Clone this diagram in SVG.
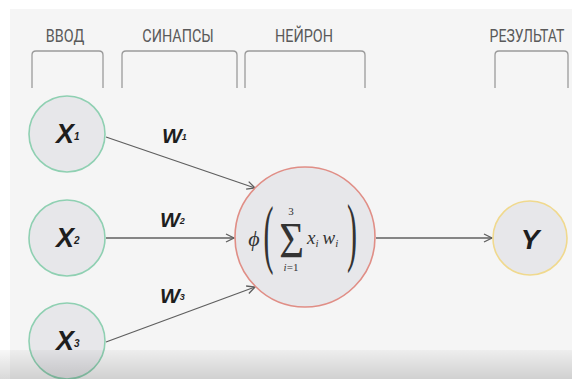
<svg xmlns="http://www.w3.org/2000/svg" width="572" height="379" viewBox="0 0 572 379">
  <defs>
    <style>
      .hdr { font-family: Roboto, "Liberation Sans", sans-serif; font-size: 18px; fill: #5a5a5a; text-anchor: middle; }
      .brk { fill: none; stroke: #9a9a9a; stroke-width: 1.3; }
      .node { fill: #e7e7ea; stroke-width: 1.6; }
      .in { stroke: #8fd0b2; }
      .hand { font-family: "Liberation Sans", sans-serif; font-weight: bold; font-style: italic; fill: #1e1e1e; }
      .math { font-family: "Liberation Serif", "DejaVu Serif", serif; fill: #333; }
      .conn { stroke: #5f5f5f; stroke-width: 1.3; fill: none; marker-end: url(#arr); }
    </style>
    <marker id="arr" markerUnits="userSpaceOnUse" markerWidth="12" markerHeight="12" refX="9" refY="5" orient="auto">
      <path d="M1,1 L9,5 L1,9" fill="none" stroke="#5f5f5f" stroke-width="1.3"/>
    </marker>
    <linearGradient id="shade" x1="0" y1="0" x2="0" y2="1">
      <stop offset="0" stop-color="#000" stop-opacity="0.03"/>
      <stop offset="1" stop-color="#000" stop-opacity="0.15"/>
    </linearGradient>
  </defs>

  <rect x="0" y="0" width="572" height="379" fill="#ffffff"/>
  <rect x="10" y="9" width="562" height="370" fill="#f5f5f5"/>

  <g id="header-vvod">
    <text class="hdr" transform="translate(65,42) scale(0.8,1)">ВВОД</text>
    <path class="brk" d="M32,88 L32,55 Q32,51 36,51 L99,51 Q103,51 103,55 L103,88"/>
  </g>
  <g id="header-synapses">
    <text class="hdr" transform="translate(178,42) scale(0.8,1)">СИНАПСЫ</text>
    <path class="brk" d="M122,88 L122,55 Q122,51 126,51 L233,51 Q237,51 237,55 L237,88"/>
  </g>
  <g id="header-neuron">
    <text class="hdr" transform="translate(304,42) scale(0.8,1)">НЕЙРОН</text>
    <path class="brk" d="M245,88 L245,55 Q245,51 249,51 L361,51 Q365,51 365,55 L365,88"/>
  </g>
  <g id="header-result">
    <text class="hdr" transform="translate(527,42) scale(0.78,1)">РЕЗУЛЬТАТ</text>
    <path class="brk" d="M495,88 L495,55 Q495,51 499,51 L564,51 Q568,51 568,55 L568,88"/>
  </g>

  <g id="connectors">
    <line class="conn" x1="106" y1="137" x2="255" y2="188"/>
    <line class="conn" x1="106" y1="238" x2="234" y2="238"/>
    <line class="conn" x1="106" y1="342" x2="255" y2="287"/>
    <line class="conn" x1="376" y1="238" x2="492" y2="238"/>
    <text class="hand" x="162" y="143" font-size="21">W<tspan font-size="9" dy="-3">1</tspan></text>
    <text class="hand" x="160" y="227" font-size="21">W<tspan font-size="9" dy="-3">2</tspan></text>
    <text class="hand" x="160" y="303" font-size="21">W<tspan font-size="9" dy="-3">3</tspan></text>
  </g>

  <g id="x1">
    <circle class="node in" cx="67" cy="134" r="38"/>
    <text class="hand" x="56" y="143" font-size="27">X<tspan font-size="10" dy="-3">1</tspan></text>
  </g>
  <g id="x2">
    <circle class="node in" cx="67" cy="238" r="38"/>
    <text class="hand" x="56" y="247" font-size="27">X<tspan font-size="10" dy="-3">2</tspan></text>
  </g>
  <g id="x3">
    <circle class="node in" cx="67" cy="341" r="38"/>
    <text class="hand" x="56" y="350" font-size="27">X<tspan font-size="10" dy="-3">3</tspan></text>
  </g>

  <g id="neuron">
    <circle class="node" cx="305" cy="237" r="70" stroke="#e08e86"/>
    <text class="math" x="254" y="246" font-size="22" font-style="italic" text-anchor="middle">ϕ</text>
    <text class="math" transform="translate(268.5,259) scale(0.75,1.9)" font-size="40" text-anchor="middle">(</text>
    <text class="math" transform="translate(291.5,257) scale(0.85,1)" font-size="50" text-anchor="middle">Σ</text>
    <text class="math" x="291" y="215" font-size="11" text-anchor="middle">3</text>
    <text class="math" x="291" y="271" font-size="11" text-anchor="middle"><tspan font-style="italic">i</tspan>=1</text>
    <text class="math" x="307" y="244" font-size="19" font-style="italic">x<tspan font-size="11" dy="3">i</tspan><tspan dx="4" dy="-3">w</tspan><tspan font-size="11" dy="3">i</tspan></text>
    <text class="math" transform="translate(352,257) scale(0.75,1.9)" font-size="40" text-anchor="middle">)</text>
  </g>

  <g id="y">
    <circle class="node" cx="530" cy="238" r="37" stroke="#f0d98e"/>
    <text class="hand" x="530" y="249" font-size="28" text-anchor="middle">Y</text>
  </g>

  <rect x="0" y="350" width="572" height="29" fill="url(#shade)"/>
</svg>
